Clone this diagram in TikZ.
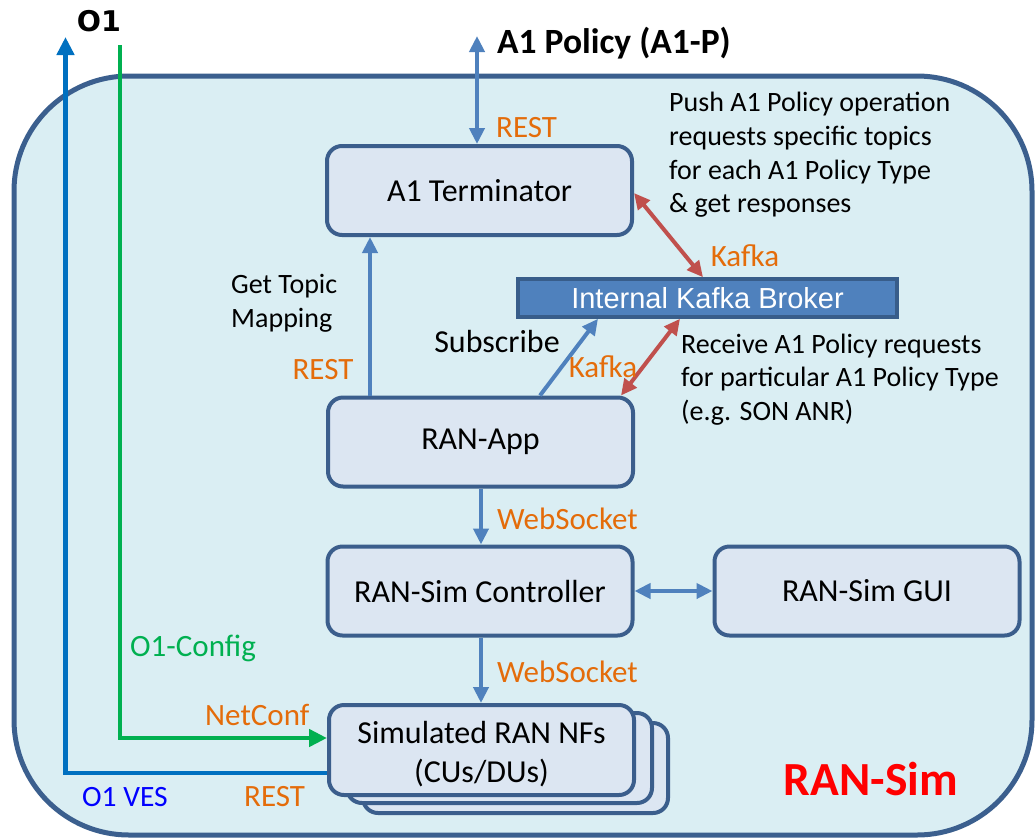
\documentclass[tikz,border=0pt]{standalone}
\usepackage{fontspec}
\setmainfont{Carlito}
\newfontfamily\brokerfont{Liberation Sans}
\newfontfamily\headfont{DejaVu Sans}
\usetikzlibrary{arrows.meta}

\definecolor{simfill}{HTML}{DAEEF3}
\definecolor{simedge}{HTML}{3B5F8E}
\definecolor{boxfill}{HTML}{DCE6F2}
\definecolor{boxedge}{HTML}{3B5E8C}
\definecolor{linkblue}{HTML}{4F81BD}
\definecolor{linkred}{HTML}{C0504D}
\definecolor{proto}{HTML}{E46C0A}
\definecolor{cfggreen}{HTML}{00B050}
\definecolor{vesblue}{HTML}{0070C0}
\definecolor{brokeredge}{HTML}{385D8A}

\tikzset{
  compbox/.style={draw=boxedge, fill=boxfill, line width=4pt, rounded corners=15pt,
    minimum width=305pt, minimum height=89pt, inner sep=0pt,
    font=\fontsize{32}{39}\selectfont, align=center},
  stackbox/.style={compbox, minimum height=90pt},
  note/.style={inner sep=0pt, font=\fontsize{28}{33.6}\selectfont, align=left},
  proto/.style={inner sep=0pt, text=proto, font=\fontsize{31}{36}\selectfont},
  tip/.style={-{Triangle[length=16pt,width=15pt]}},
  bigtip/.style={-{Triangle[length=18pt,width=17pt]}},
  bothtips/.style={{Triangle[length=16pt,width=15pt]}-{Triangle[length=16pt,width=15pt]}},
  bluelink/.style={draw=linkblue, line width=4pt},
  redlink/.style={draw=linkred, line width=4pt},
}

\begin{document}
\begin{tikzpicture}[x=1pt,y=-1pt]
\useasboundingbox (0,0) rectangle (1036,839);

% RAN-Sim enclosure
\draw[draw=simedge, fill=simfill, line width=5pt, rounded corners=115pt]
  (14,76) rectangle (1032,835);

% components
\node[compbox] (term) at (479.5,190.5) {A1 Terminator};
\node[compbox] (app) at (480.5,442) {RAN-App};
\node[compbox] (ctrl) at (480,591) {RAN-Sim Controller};
\node[compbox] (gui) at (867,591) {RAN-Sim GUI};
% stacked network functions
\node[stackbox] (nfs3) at (515.5,768) {};
\node[stackbox] (nfs2) at (499.5,758) {};
\node[stackbox] (nfs) at (481.5,750) {};
\node[inner sep=0pt, align=center, font=\fontsize{32}{39}\selectfont]
  (nfstext) at ([yshift=-4pt]nfs.center) {Simulated RAN NFs\\(CUs/DUs)};

\node[draw=brokeredge, fill=linkblue, line width=3.5pt, minimum width=379pt,
  minimum height=38pt, inner sep=0pt, text=white,
  font=\brokerfont\fontsize{29}{34}\selectfont] (broker) at (707.5,298) {Internal Kafka Broker};

% external interfaces
\node[inner sep=0pt, font=\headfont\bfseries\fontsize{28.5}{32}\selectfont] (o1) at (99,21) {O1};
\node[inner sep=0pt, anchor=west, font=\bfseries\fontsize{35.5}{40}\selectfont] (a1p) at (497,43) {A1 Policy (A1-P)};
\coordinate (a1top) at (477,36);
\coordinate (vestop) at (65.5,37);
\coordinate (cfgtop) at (120,45);

% O1 links
\draw[draw=vesblue, line width=4.5pt, bigtip] (nfs.west |- 0,773) -- (65.5,773) -- (vestop);
\draw[draw=cfggreen, line width=4.5pt, bigtip] (cfgtop) -- (120,738) -- (nfs.west |- 0,738);

% A1 and internal links
\draw[bluelink, bothtips] (a1top) -- (term.north -| 477,0);
\draw[bluelink, tip] (app.north -| 370,0) -- (term.south -| 370,0);
\draw[bluelink, tip] (app.north -| 540,0) -- (broker.south -| 598,0);
\draw[redlink, bothtips] (term.east |- 0,193) -- (broker.north -| 703,0);
\draw[redlink, bothtips] (broker.south -| 680,0) -- (app.north -| 621,0);
\draw[bluelink, tip] (app.south -| 481,0) -- (ctrl.north -| 481,0);
\draw[bluelink, bothtips] (ctrl.east) -- (gui.west);
\draw[bluelink, tip] (ctrl.south -| 481,0) -- (nfs.north -| 481,0);

% protocol labels
\node[proto, anchor=west] (restA1) at (496,128) {REST};
\node[proto] (kafka1) at (745,256) {Kafka};
\node[proto] (restTopic) at (323,370) {REST};
\node[proto] (kafka2) at (603,367) {Kafka};
\node[proto, anchor=west] (ws1) at (497,519) {WebSocket};
\node[proto, anchor=west] (ws2) at (497,672) {WebSocket};
\node[proto, anchor=west] (netconf) at (205,715) {NetConf};
\node[proto, anchor=west] (restVes) at (244,797) {REST};
\node[inner sep=0pt, anchor=west, text=cfggreen, font=\fontsize{31}{36}\selectfont] (o1cfg) at (130,648) {O1-Config};
\node[inner sep=0pt, anchor=west, text=blue, font=\fontsize{29.5}{34}\selectfont] (o1ves) at (82,797) {O1 VES};

% annotations
\node[note, anchor=west] (push) at (669,155) {Push A1 Policy operation\\requests specific topics\\for each A1 Policy Type\\\& get responses};
\node[note, anchor=west] (topic) at (231,303.5) {Get Topic\\Mapping};
\node[note, font=\fontsize{32}{36}\selectfont] (subscribe) at (497,341) {Subscribe};
\node[note, anchor=west] (receive) at (681,379.5) {Receive A1 Policy requests\\for particular A1 Policy Type\\(e.g. SON ANR)};

\node[inner sep=0pt, text=red, font=\bfseries\fontsize{47.5}{52}\selectfont] (ransim) at (871,779) {RAN-Sim};
\end{tikzpicture}
\end{document}
